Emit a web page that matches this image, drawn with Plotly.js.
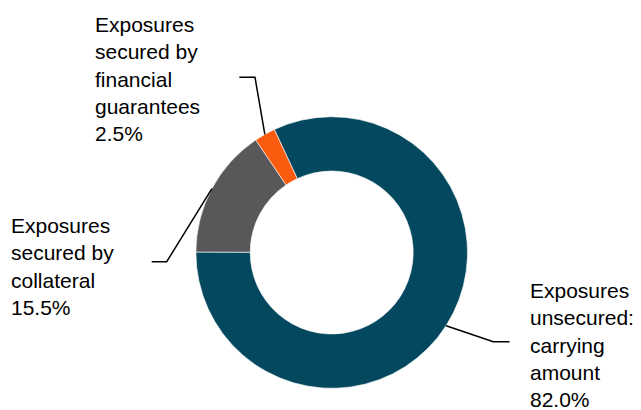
<!DOCTYPE html>
<html>
<head>
<meta charset="utf-8">
<script src="https://cdn.plot.ly/plotly-3.0.1.min.js"></script>
<style>html,body{margin:0;padding:0;background:#fff;}#chart{width:641px;height:410px;}</style>
</head>
<body>
<div id="chart"></div>
<script>
// ---- data ----
var categories = ["Exposures unsecured: carrying amount", "Exposures secured by collateral", "Exposures secured by financial guarantees"];
var values = [82.0, 15.5, 2.5];
var labelTexts = ["Exposures<br>unsecured:<br>carrying<br>amount<br>82.0%",
                  "Exposures<br>secured by<br>collateral<br>15.5%",
                  "Exposures<br>secured by<br>financial<br>guarantees<br>2.5%"];
var colors = ["#03485E", "#58585A", "#FA5B0F"];

// ---- layout config (pixels) ----
var W = 641, H = 410;
var cx = 331.7, cy = 252.5, R = 135.8;
var rotation = -25;
// label boxes (top-left) and leader kink/end points, in pixels
var labelPos = [
  {x: 527.5, y: 276.5, kx: 493.3, ky: 341.7, ex: 509.5, ey: 341.7},
  {x: 9.0,   y: 211.5, kx: 166.7, ky: 261.7, ex: 151.7, ey: 261.7},
  {x: 92.5,  y: 11.0,  kx: 255.0, ky: 77.3,  ex: 239.3, ey: 77.3}
];

function px(x){ return x / W; }
function py(y){ return 1 - y / H; }

var total = values.reduce(function(a,b){return a+b;}, 0);
var shapes = [], annotations = [];
var cum = 0;
for (var i = 0; i < values.length; i++) {
  var midDeg = rotation + 360 * (cum + values[i] / 2) / total;
  cum += values[i];
  var a = midDeg * Math.PI / 180;
  var sx = cx + R * Math.sin(a), sy = cy - R * Math.cos(a);
  var L = labelPos[i];
  shapes.push({
    type: "path", xref: "paper", yref: "paper",
    path: "M" + px(sx) + "," + py(sy) + " L" + px(L.kx) + "," + py(L.ky) + " L" + px(L.ex) + "," + py(L.ey),
    line: {color: "#000000", width: 1.5}
  });
  annotations.push({
    text: labelTexts[i], xref: "paper", yref: "paper",
    x: px(L.x), y: py(L.y), xanchor: "left", yanchor: "top", align: "left",
    showarrow: false, font: {family: "Liberation Sans, Arial, sans-serif", size: 21, color: "#000000"}
  });
}

var trace = {
  type: "pie",
  labels: categories,
  values: values,
  hole: 0.6,
  sort: false,
  direction: "clockwise",
  rotation: rotation,
  textinfo: "none",
  hoverinfo: "label+percent",
  marker: {colors: colors, line: {color: "#ffffff", width: 0.6}},
  domain: {x: [px(cx - R), px(cx + R)], y: [py(cy + R), py(cy - R)]},
  showlegend: false
};

var layout = {
  width: W, height: H,
  margin: {l: 0, r: 0, t: 0, b: 0},
  paper_bgcolor: "#ffffff",
  plot_bgcolor: "#ffffff",
  showlegend: false,
  shapes: shapes,
  annotations: annotations
};

Plotly.newPlot("chart", [trace], layout, {displayModeBar: false, staticPlot: true});
</script>
</body>
</html>
